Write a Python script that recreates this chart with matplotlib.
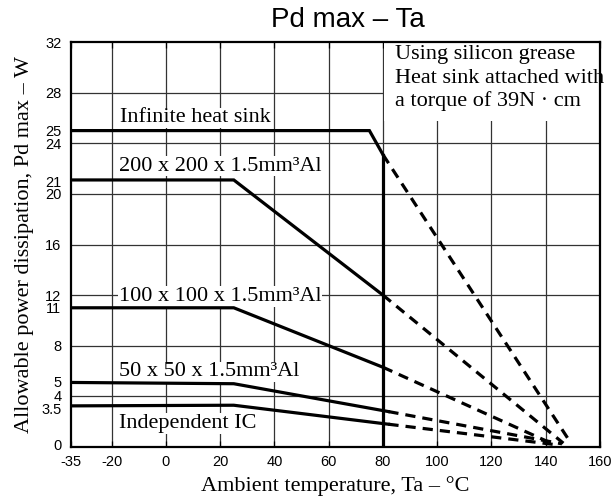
import matplotlib
matplotlib.use('Agg')
import matplotlib.pyplot as plt
from matplotlib.patches import Rectangle
import matplotlib.transforms as mtransforms

# ---- data ----
series_names = ["Infinite heat sink", "200 x 200 x 1.5mm³Al", "100 x 100 x 1.5mm³Al",
                "50 x 50 x 1.5mm³Al", "Independent IC"]
solid_x = [[-35, 75, 80], [-35, 25, 80], [-35, 25, 80], [-35, 25, 82], [-35, 25, 82]]
solid_y = [[25.0, 25.0, 23.1], [21.1, 21.1, 12.0], [11.0, 11.0, 6.3], [5.1, 5.0, 2.8], [3.25, 3.3, 1.8]]
dash_x = [[80, 149], [80, 146.5], [80, 141], [82, 146], [82, 145]]
dash_y = [[23.1, 0.4], [12.0, 0.3], [6.3, 0.4], [2.8, 0.25], [1.8, 0.15]]
label_pos = [(-17, 26.0), (-17.4, 22.2), (-17.4, 11.9), (-17.4, 5.95), (-17.4, 1.86)]
limit_x = [80, 80]
limit_y = [0, 23.1]

xticks = [-35, -20, 0, 20, 40, 60, 80, 100, 120, 140, 160]
yticks = [0, 3.5, 4, 5, 8, 11, 12, 16, 20, 21, 24, 25, 28, 32]
ytick_labels = ["0", "3.5", "4", "5", "8", "11", "12", "16", "20", "21", "24", "25", "28", "32"]
xgrid = [-20, 0, 20, 40, 60, 80, 100, 120, 140]
ygrid = [4, 8, 12, 16, 20, 24, 28]
note_lines = ["Using silicon grease", "Heat sink attached with", "a torque of 39N · cm"]
note_y = [31.0, 29.15, 27.3]

SERIF = "Liberation Serif"
SANS = "Liberation Sans"

fig = plt.figure(figsize=(6.16, 5.0), dpi=100)
ax = fig.add_axes([71/616, 1-447/500, (600-71)/616, (447-42)/500])
ax.set_xlim(-35, 160)
ax.set_ylim(0, 32)

for gx in xgrid:
    ax.axvline(gx, color="#333333", lw=0.9, zorder=1)
for gy in ygrid:
    ax.axhline(gy, color="#333333", lw=0.9, zorder=1)

# note box covering grid
ax.add_patch(Rectangle((80.4, 25.75), 80, 7, facecolor="white", edgecolor="none", zorder=2))
for t, yy in zip(note_lines, note_y):
    ax.text(84.3, yy, t, fontfamily=SERIF, fontsize=16, va="center", ha="left", zorder=3)

for sx, sy, dx, dy in zip(solid_x, solid_y, dash_x, dash_y):
    ax.plot(sx, sy, color="black", lw=2.3, solid_joinstyle="miter", zorder=4)
    ax.plot(dx, dy, color="black", lw=2.3, dashes=(3.2, 2.2), zorder=4)
ax.plot(limit_x, limit_y, color="black", lw=2.3, zorder=4)

for name, (lx, ly) in zip(series_names, label_pos):
    ax.text(lx, ly, name, fontfamily=SERIF, fontsize=16, va="center", ha="left", zorder=3,
            bbox=dict(facecolor="white", edgecolor="none", pad=0.5))

ax.set_xticks(xticks)
ax.set_xticklabels([str(v) for v in xticks], fontfamily=SANS, fontsize=10.5)
ax.set_yticks(yticks)
ax.set_yticklabels(ytick_labels, fontfamily=SANS, fontsize=10.5)
ax.tick_params(axis="x", direction="in", top=True, length=4, width=0.9, pad=6)
ax.tick_params(axis="y", direction="in", length=0, pad=7)
# shift crowded labels slightly as in the reference
labs = ax.get_yticklabels()
labs[1].set_transform(labs[1].get_transform() + mtransforms.ScaledTranslation(0, -6/100, fig.dpi_scale_trans))
labs[2].set_transform(labs[2].get_transform() + mtransforms.ScaledTranslation(0, 1/100, fig.dpi_scale_trans))
labs[3].set_transform(labs[3].get_transform() + mtransforms.ScaledTranslation(0, 2/100, fig.dpi_scale_trans))
labs[0].set_transform(labs[0].get_transform() + mtransforms.ScaledTranslation(0, 3/100, fig.dpi_scale_trans))

for s in ax.spines.values():
    s.set_linewidth(1.6)
    s.set_zorder(5)

ax.set_xlabel("Ambient temperature, Ta – °C", fontfamily=SERIF, fontsize=16, labelpad=5)
ax.set_ylabel("Allowable power dissipation, Pd max – W", fontfamily=SERIF, fontsize=16, labelpad=5)
fig.text(348/616, 1-20/500, "Pd max – Ta", fontfamily=SANS, fontsize=20, ha="center", va="center")

fig.savefig("out.png", dpi=100)
